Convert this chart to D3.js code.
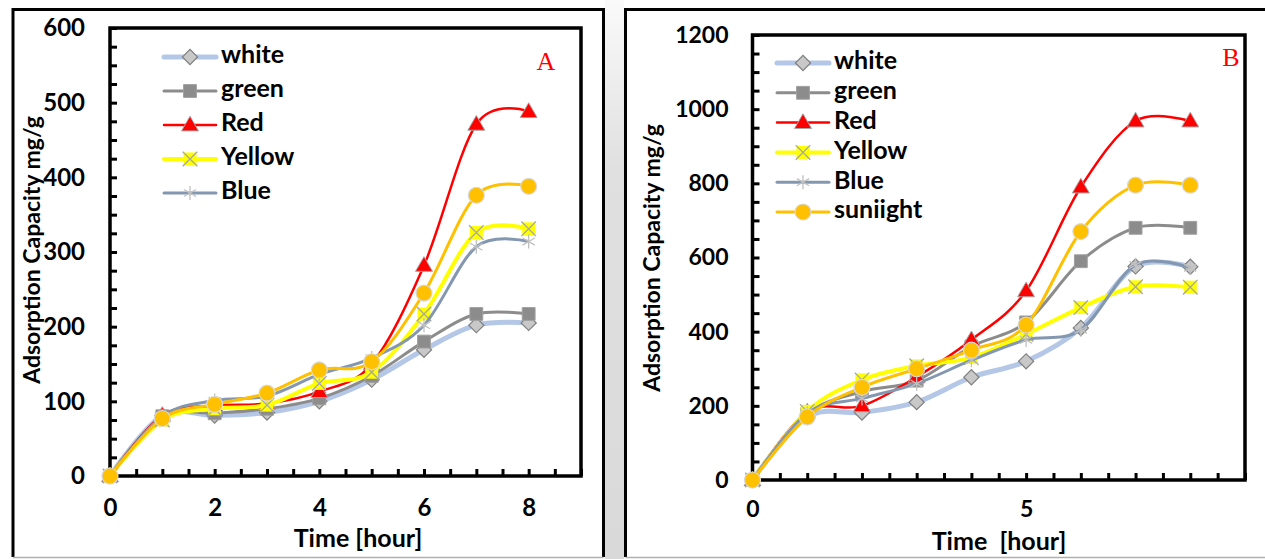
<!DOCTYPE html>
<html>
<head>
<meta charset="utf-8">
<script src="https://cdn.jsdelivr.net/npm/d3@7"></script>
<style>
  body { margin: 0; background: #fff; }
  svg text { font-family: Lato, "Open Sans", sans-serif; font-weight: bold; fill: #000; }
</style>
</head>
<body>
<div id="chart"></div>
<script>
const hours = [0, 1, 2, 3, 4, 5, 6, 7, 8];

// panel A (y in mg/g)
const aWhite  = [0, 81, 81, 85, 100, 129, 169, 202, 205];
const aGreen  = [0, 80, 84, 90, 104, 134, 180, 217, 217];
const aRed    = [0, 81, 94, 97, 113, 150, 282, 471, 488];
const aYellow = [0, 75, 90, 95, 124, 139, 217, 326, 331];
const aBlue   = [0, 80, 101, 107, 136, 158, 202, 307, 314];
const aSun    = [0, 77, 96, 111, 142, 153, 245, 376, 388];

// panel B
const bWhite  = [0, 170, 182, 210, 277, 320, 410, 576, 575];
const bGreen  = [0, 178, 238, 268, 360, 425, 590, 680, 680];
const bRed    = [0, 183, 200, 278, 378, 510, 790, 968, 968];
const bYellow = [0, 185, 270, 308, 330, 393, 465, 521, 520];
const bBlue   = [0, 180, 220, 260, 323, 378, 405, 580, 572];
const bSun    = [0, 170, 250, 300, 350, 418, 670, 795, 795];

const legendA = ["white", "green", "Red", "Yellow", "Blue"];
const legendB = ["white", "green", "Red", "Yellow", "Blue", "suniight"];

const aXTicks = [0, 2, 4, 6, 8];
const aYTicks = [0, 100, 200, 300, 400, 500, 600];
const bXTicks = [0, 5];
const bYTicks = [0, 200, 400, 600, 800, 1000, 1200];

const W = 1265, H = 559;

// series look, same order as drawn
const styles = [
  { line: "#b4c7e7", lw: 5,   mark: "diamond" },
  { line: "#8c8c8c", lw: 3,   mark: "square" },
  { line: "#ff0000", lw: 2.5, mark: "triangle" },
  { line: "#ffff00", lw: 4,   mark: "xbox" },
  { line: "#8497b0", lw: 3,   mark: "asterisk" },
  { line: "#ffc000", lw: 3,   mark: "circle" }
];

const svg = d3.select("#chart").append("svg")
  .attr("width", W).attr("height", H);

// gray gap between the two figures
const grad = svg.append("defs").append("linearGradient")
  .attr("id", "gap").attr("x1", 0).attr("x2", 0).attr("y1", 0).attr("y2", 1);
grad.append("stop").attr("offset", "0").attr("stop-color", "#fafafa");
grad.append("stop").attr("offset", "0.3").attr("stop-color", "#e0e0e0");
grad.append("stop").attr("offset", "1").attr("stop-color", "#d9d9d9");
svg.append("rect").attr("x", 605).attr("y", 0).attr("width", 19).attr("height", H)
  .attr("fill", "url(#gap)");

function marker(g, kind, cx, cy) {
  const t = `translate(${cx},${cy})`;
  if (kind === "diamond") {
    g.append("path").attr("d", d3.symbol().type(d3.symbolSquare).size(115)())
      .attr("transform", t + " rotate(45)")
      .attr("fill", "#c8c8c8").attr("stroke", "#7f7f7f").attr("stroke-width", 1.2);
  } else if (kind === "square") {
    g.append("path").attr("d", d3.symbol().type(d3.symbolSquare).size(165)())
      .attr("transform", t).attr("fill", "#8c8c8c").attr("stroke", "#a0a0a0").attr("stroke-width", 1);
  } else if (kind === "triangle") {
    g.append("path").attr("d", d3.symbol().type(d3.symbolTriangle).size(125)())
      .attr("transform", t + " translate(0,1)")
      .attr("fill", "#ff0000").attr("stroke", "#a6a6a6").attr("stroke-width", 1);
  } else if (kind === "xbox") {
    g.append("path").attr("d", d3.symbol().type(d3.symbolSquare).size(170)())
      .attr("transform", t).attr("fill", "#ffff00");
    g.append("path").attr("d", d3.symbol().type(d3.symbolTimes).size(140)())
      .attr("transform", t).attr("fill", "none").attr("stroke", "#a6a6a6").attr("stroke-width", 1.3);
  } else if (kind === "asterisk") {
    g.append("path").attr("d", d3.symbol().type(d3.symbolAsterisk).size(140)())
      .attr("transform", t).attr("fill", "none").attr("stroke", "#c0c0c0").attr("stroke-width", 1.3);
  } else {
    g.append("circle").attr("cx", cx).attr("cy", cy).attr("r", 8)
      .attr("fill", "#ffc000").attr("stroke", "#d9d9d9").attr("stroke-width", 1.2);
  }
}

function panel(o) {
  const g = svg.append("g");

  // outer frame
  g.append("path")
    .attr("d", `M${o.fx0},${H - 2} V${9.5} H${o.fx1}` + (o.closeRight ? ` V${H - 2}` : ""))
    .attr("fill", "none").attr("stroke", "#000").attr("stroke-width", 3);
  g.append("line").attr("x1", o.fx0).attr("x2", o.fx1).attr("y1", 557.5).attr("y2", 557.5)
    .attr("stroke", "#b0b0b0").attr("stroke-width", 1.5);

  const x = d3.scaleLinear().domain([0, 9]).range([o.left, o.right]);
  const y = d3.scaleLinear().domain([0, o.yMax]).range([o.bottom, o.top]);

  // inside ticks
  g.append("g").attr("transform", `translate(${o.left},0)`)
    .call(d3.axisRight(y).tickValues(d3.range(0, o.yMax + 1, o.yMinor)).tickSize(7).tickFormat(""))
    .call(a => a.select(".domain").remove())
    .call(a => a.selectAll("line").attr("stroke-width", 3));
  g.append("g").attr("transform", `translate(0,${o.bottom})`)
    .call(d3.axisTop(x).tickValues(d3.range(0, 9.01, 0.5)).tickSize(7).tickFormat(""))
    .call(a => a.select(".domain").remove())
    .call(a => a.selectAll("line").attr("stroke-width", 3));

  // tick labels
  g.append("g").attr("transform", `translate(${o.left},0)`)
    .call(d3.axisLeft(y).tickValues(o.yTicks).tickSize(0).tickPadding(o.yPad).tickFormat(d3.format("d")))
    .call(a => a.select(".domain").remove())
    .call(a => a.selectAll("text").attr("font-size", o.tickFont).attr("font-family", null));
  g.append("g").attr("transform", `translate(0,${o.bottom})`)
    .call(d3.axisBottom(x).tickValues(o.xTicks).tickSize(0).tickPadding(o.xPad).tickFormat(d3.format("d")))
    .call(a => a.select(".domain").remove())
    .call(a => a.selectAll("text").attr("font-size", o.tickFont).attr("font-family", null));

  // plot box
  g.append("rect").attr("x", o.left).attr("y", o.top)
    .attr("width", o.right - o.left).attr("height", o.bottom - o.top)
    .attr("fill", "none").attr("stroke", "#000").attr("stroke-width", 3.5);

  // titles
  g.append("text").attr("transform", `translate(${o.yTitleX},${o.yTitleY}) rotate(-90)`)
    .attr("text-anchor", "middle").attr("dominant-baseline", "middle")
    .attr("font-size", 23).text("Adsorption Capacity mg/g");
  g.append("text").attr("x", o.xTitleX).attr("y", o.xTitleY)
    .attr("text-anchor", "middle").attr("dominant-baseline", "middle")
    .attr("font-size", 25).style("white-space", "pre")
    .text(o.xTitle);
  g.append("text").attr("x", o.tagX).attr("y", o.tagY)
    .attr("text-anchor", "middle").attr("dominant-baseline", "middle")
    .style("font-family", "'Liberation Serif', 'Times New Roman', serif")
    .style("font-weight", "normal").style("fill", "#ff0000")
    .attr("font-size", 26).text(o.tag);

  // series
  const line = d3.line().x((d, i) => x(hours[i])).y(d => y(d))
    .curve(d3.curveCatmullRom.alpha(0));
  o.series.forEach((vals, k) => {
    const s = styles[k];
    const sg = g.append("g");
    sg.append("path").attr("d", line(vals)).attr("fill", "none")
      .attr("stroke", s.line).attr("stroke-width", s.lw).attr("stroke-linejoin", "round");
    vals.forEach((v, i) => marker(sg, s.mark, x(hours[i]), y(v)));
  });

  // legend
  o.legend.forEach((name, k) => {
    const s = styles[k];
    const ly = o.legY + k * o.legStep;
    const lg = g.append("g");
    lg.append("line").attr("x1", o.legX0).attr("x2", o.legX1).attr("y1", ly).attr("y2", ly)
      .attr("stroke", s.line).attr("stroke-width", s.lw).attr("stroke-linecap", "round");
    marker(lg, s.mark, (o.legX0 + o.legX1) / 2, ly);
    lg.append("text").attr("x", o.legX1 + 5).attr("y", ly)
      .attr("dominant-baseline", "middle").attr("font-size", o.legFont).text(name);
  });
}

panel({
  fx0: 13, fx1: 603.5, closeRight: true,
  left: 110, right: 581, top: 28, bottom: 476, yMax: 600, yMinor: 25,
  xTicks: aXTicks, yTicks: aYTicks, tickFont: 24, yPad: 25, xPad: 23,
  yTitleX: 34, yTitleY: 250, xTitleX: 358, xTitleY: 541, xTitle: "Time [hour]",
  tag: "A", tagX: 546, tagY: 64,
  series: [aWhite, aGreen, aRed, aYellow, aBlue, aSun],
  legend: legendA, legY: 57, legStep: 34, legX0: 164, legX1: 216, legFont: 25
});

panel({
  fx0: 625.5, fx1: 1270, closeRight: false,
  left: 752.5, right: 1245, top: 35, bottom: 480, yMax: 1200, yMinor: 50,
  xTicks: bXTicks, yTicks: bYTicks, tickFont: 23, yPad: 24, xPad: 21,
  yTitleX: 654, yTitleY: 258, xTitleX: 999, xTitleY: 544, xTitle: "Time  [hour]",
  tag: "B", tagX: 1231, tagY: 60,
  series: [bWhite, bGreen, bRed, bYellow, bBlue, bSun],
  legend: legendB, legY: 63, legStep: 29.8, legX0: 777, legX1: 829, legFont: 25
});
</script>
</body>
</html>
